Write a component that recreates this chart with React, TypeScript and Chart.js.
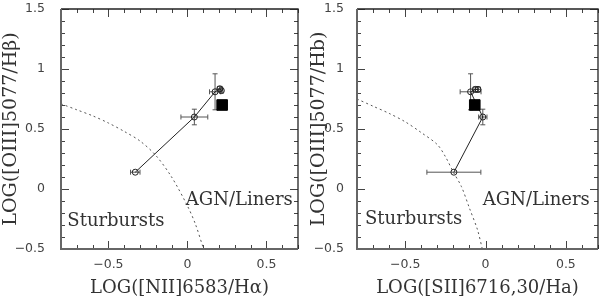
import React, { useEffect, useRef } from "react";
import { Chart, registerables } from "chart.js";
Chart.register(...registerables);

// ---------- data ----------
const xTickValues = [-0.5, 0, 0.5];
const yTickValues = [-0.5, 0, 0.5, 1, 1.5];

// Left panel: [NII]
const niiX = [-0.33, 0.044, 0.175, 0.205, 0.215];
const niiY = [0.14, 0.6, 0.81, 0.835, 0.82];
const niiXErr = [0.03, 0.085, 0.035, 0.015, 0.01];
const niiYErr = [0.0, 0.065, 0.15, 0.02, 0.02];
const niiSquare = [0.22, 0.7];
const niiCurveX = [-0.8, -0.7, -0.6, -0.5, -0.4, -0.3, -0.2, -0.1, 0, 0.05, 0.1];
const niiCurveY = [0.71, 0.66, 0.61, 0.55, 0.48, 0.4, 0.28, 0.1, -0.14, -0.29, -0.49];

// Right panel: [SII]
const siiX = [-0.197, -0.017, -0.093, -0.063, -0.047];
const siiY = [0.14, 0.6, 0.81, 0.83, 0.83];
const siiXErr = [0.168, 0.026, 0.065, 0.015, 0.015];
const siiYErr = [0.0, 0.065, 0.15, 0.02, 0.02];
const siiSquare = [-0.067, 0.7];
const siiCurveX = [-0.8, -0.7, -0.6, -0.5, -0.4, -0.3, -0.25, -0.2, -0.15, -0.1, -0.05, -0.02];
const siiCurveY = [0.75, 0.69, 0.63, 0.56, 0.47, 0.37, 0.27, 0.14, 0.02, -0.16, -0.34, -0.5];

const regionLabels = ["Sturbursts", "AGN/Liners"];

// ---------- helpers ----------
const fmt = (v: number) => (v < 0 ? "\u2212" + String(Math.abs(v)) : String(v));

type Panel = {
  xs: number[]; ys: number[]; xe: number[]; ye: number[];
  sq: number[]; cx: number[]; cy: number[];
  xTitle: string; yTitle: string;
  yAxisWidth: number; yTickPad: number; yTitlePad: number;
  labelPos: number[][];
};

const panels: Panel[] = [
  {
    xs: niiX, ys: niiY, xe: niiXErr, ye: niiYErr, sq: niiSquare, cx: niiCurveX, cy: niiCurveY,
    xTitle: "LOG([NII]6583/H\u03B1)", yTitle: "LOG([OIII]5077/H\u03B2)",
    yAxisWidth: 61, yTickPad: 8, yTitlePad: 1.5,
    labelPos: [[-0.76, -0.31], [-0.01, -0.13]],
  },
  {
    xs: siiX, ys: siiY, xe: siiXErr, ye: siiYErr, sq: siiSquare, cx: siiCurveX, cy: siiCurveY,
    xTitle: "LOG([SII]6716,30/Ha)", yTitle: "LOG([OIII]5077/Hb)",
    yAxisWidth: 57, yTickPad: 5, yTitlePad: 10,
    labelPos: [[-0.75, -0.29], [-0.017, -0.13]],
  },
];

function buildConfig(p: Panel): any {
  const errorBars = {
    id: "errorBars",
    beforeDatasetsDraw(chart: any) {
      const { ctx, scales: { x, y } } = chart;
      ctx.save();
      ctx.strokeStyle = "#555";
      ctx.lineWidth = 1;
      const cap = 2.5;
      for (let i = 0; i < p.xs.length; i++) {
        const px = x.getPixelForValue(p.xs[i]);
        const py = y.getPixelForValue(p.ys[i]);
        if (p.xe[i] > 0) {
          const x0 = x.getPixelForValue(p.xs[i] - p.xe[i]);
          const x1 = x.getPixelForValue(p.xs[i] + p.xe[i]);
          ctx.beginPath();
          ctx.moveTo(x0, py); ctx.lineTo(x1, py);
          ctx.moveTo(x0, py - cap); ctx.lineTo(x0, py + cap);
          ctx.moveTo(x1, py - cap); ctx.lineTo(x1, py + cap);
          ctx.stroke();
        }
        if (p.ye[i] > 0) {
          const y0 = y.getPixelForValue(p.ys[i] - p.ye[i]);
          const y1 = y.getPixelForValue(p.ys[i] + p.ye[i]);
          ctx.beginPath();
          ctx.moveTo(px, y0); ctx.lineTo(px, y1);
          ctx.moveTo(px - cap, y0); ctx.lineTo(px + cap, y0);
          ctx.moveTo(px - cap, y1); ctx.lineTo(px + cap, y1);
          ctx.stroke();
        }
      }
      ctx.restore();
    },
  };

  const frame = {
    id: "frame",
    afterDraw(chart: any) {
      const { ctx, chartArea: { left, right, top, bottom }, scales: { x, y } } = chart;
      ctx.save();
      // ticks
      ctx.strokeStyle = "#444";
      ctx.lineWidth = 1;
      ctx.beginPath();
      for (let k = -8; k <= 7; k++) {
        const px = Math.round(x.getPixelForValue(k / 10)) + 0.5;
        const len = k % 5 === 0 ? 8 : 4;
        ctx.moveTo(px, bottom); ctx.lineTo(px, bottom - len);
        ctx.moveTo(px, top); ctx.lineTo(px, top + len);
      }
      for (let k = -5; k <= 15; k++) {
        const py = Math.round(y.getPixelForValue(k / 10)) + 0.5;
        const len = k % 5 === 0 ? 8 : 4;
        ctx.moveTo(left, py); ctx.lineTo(left + len, py);
        ctx.moveTo(right, py); ctx.lineTo(right - len, py);
      }
      ctx.stroke();
      // frame
      ctx.strokeStyle = "#222";
      ctx.lineWidth = 1.3;
      ctx.beginPath();
      ctx.moveTo(left, top); ctx.lineTo(right, top); ctx.lineTo(right, bottom);
      ctx.stroke();
      ctx.strokeStyle = "#666";
      ctx.lineWidth = 2;
      ctx.beginPath();
      ctx.moveTo(left, top); ctx.lineTo(left, bottom); ctx.lineTo(right, bottom);
      ctx.stroke();
      // region labels
      ctx.fillStyle = "#333";
      ctx.font = "18px 'DejaVu Serif'";
      ctx.textAlign = "left";
      ctx.textBaseline = "alphabetic";
      regionLabels.forEach((t, i) => {
        const [lx, ly] = p.labelPos[i];
        ctx.fillText(t, x.getPixelForValue(lx), y.getPixelForValue(ly));
      });
      ctx.restore();
    },
  };

  return {
    type: "scatter",
    data: {
      datasets: [
        {
          data: [{ x: p.sq[0], y: p.sq[1] }],
          pointStyle: "rect",
          pointRadius: 7.5,
          backgroundColor: "#000",
          borderColor: "#000",
          borderWidth: 1,
          order: 0,
        },
        {
          data: p.xs.map((v, i) => ({ x: v, y: p.ys[i] })),
          showLine: true,
          borderColor: "#222",
          borderWidth: 1,
          pointRadius: 3,
          pointBorderWidth: 1,
          pointBackgroundColor: "rgba(0,0,0,0)",
          pointBorderColor: "#222",
          order: 1,
        },
        {
          data: p.cx.map((v, i) => ({ x: v, y: p.cy[i] })),
          showLine: true,
          borderColor: "#555",
          borderWidth: 1,
          borderDash: [2, 3],
          pointRadius: 0,
          tension: 0.3,
          order: 2,
        },
      ],
    },
    options: {
      animation: false,
      responsive: false,
      devicePixelRatio: 1,
      layout: { autoPadding: false, padding: { left: 0, right: 2, top: 9, bottom: 0 } },
      plugins: { legend: { display: false }, tooltip: { enabled: false } },
      scales: {
        x: {
          type: "linear",
          min: -0.8,
          max: 0.7,
          grid: { display: false },
          border: { display: false },
          afterBuildTicks: (s: any) => { s.ticks = xTickValues.map((v) => ({ value: v })); },
          afterFit: (s: any) => {
            s.height = 47;
            s.paddingLeft = 0; s.paddingRight = 0; s.paddingTop = 0; s.paddingBottom = 0;
          },
          ticks: {
            callback: (v: any) => fmt(Number(v)),
            padding: 0,
            color: "#444",
            font: { family: "DejaVu Sans", size: 12.5 },
            maxRotation: 0,
            autoSkip: false,
          },
          title: {
            display: true,
            text: p.xTitle,
            color: "#333",
            font: { family: "DejaVu Serif", size: 18, lineHeight: 0.9 },
            padding: { top: 0, bottom: 0 },
          },
        },
        y: {
          type: "linear",
          min: -0.5,
          max: 1.5,
          grid: { display: false },
          border: { display: false },
          afterBuildTicks: (s: any) => { s.ticks = yTickValues.map((v) => ({ value: v })); },
          afterFit: (s: any) => {
            s.width = p.yAxisWidth;
            s.paddingLeft = 0; s.paddingRight = 0; s.paddingTop = 0; s.paddingBottom = 0;
          },
          ticks: {
            callback: (v: any) => fmt(Number(v)),
            padding: p.yTickPad,
            color: "#444",
            font: { family: "DejaVu Sans", size: 12.5 },
            autoSkip: false,
          },
          title: {
            display: true,
            text: p.yTitle,
            color: "#333",
            font: { family: "DejaVu Serif", size: 19, lineHeight: 1 },
            padding: { top: p.yTitlePad, bottom: 0 },
          },
        },
      },
    },
    plugins: [errorBars, frame],
  };
}

export default function App() {
  const leftRef = useRef<HTMLCanvasElement>(null);
  const rightRef = useRef<HTMLCanvasElement>(null);
  useEffect(() => {
    const c1 = new Chart(leftRef.current as HTMLCanvasElement, buildConfig(panels[0]));
    const c2 = new Chart(rightRef.current as HTMLCanvasElement, buildConfig(panels[1]));
    return () => {
      c1.destroy();
      c2.destroy();
    };
  }, []);
  return (
    <div style={{ position: "fixed", left: 0, top: 0, width: 600, height: 296, background: "#fff" }}>
      <canvas ref={leftRef} width={300} height={296}
        style={{ position: "absolute", left: 0, top: 0, width: 300, height: 296 }} />
      <canvas ref={rightRef} width={300} height={296}
        style={{ position: "absolute", left: 300, top: 0, width: 300, height: 296 }} />
    </div>
  );
}
